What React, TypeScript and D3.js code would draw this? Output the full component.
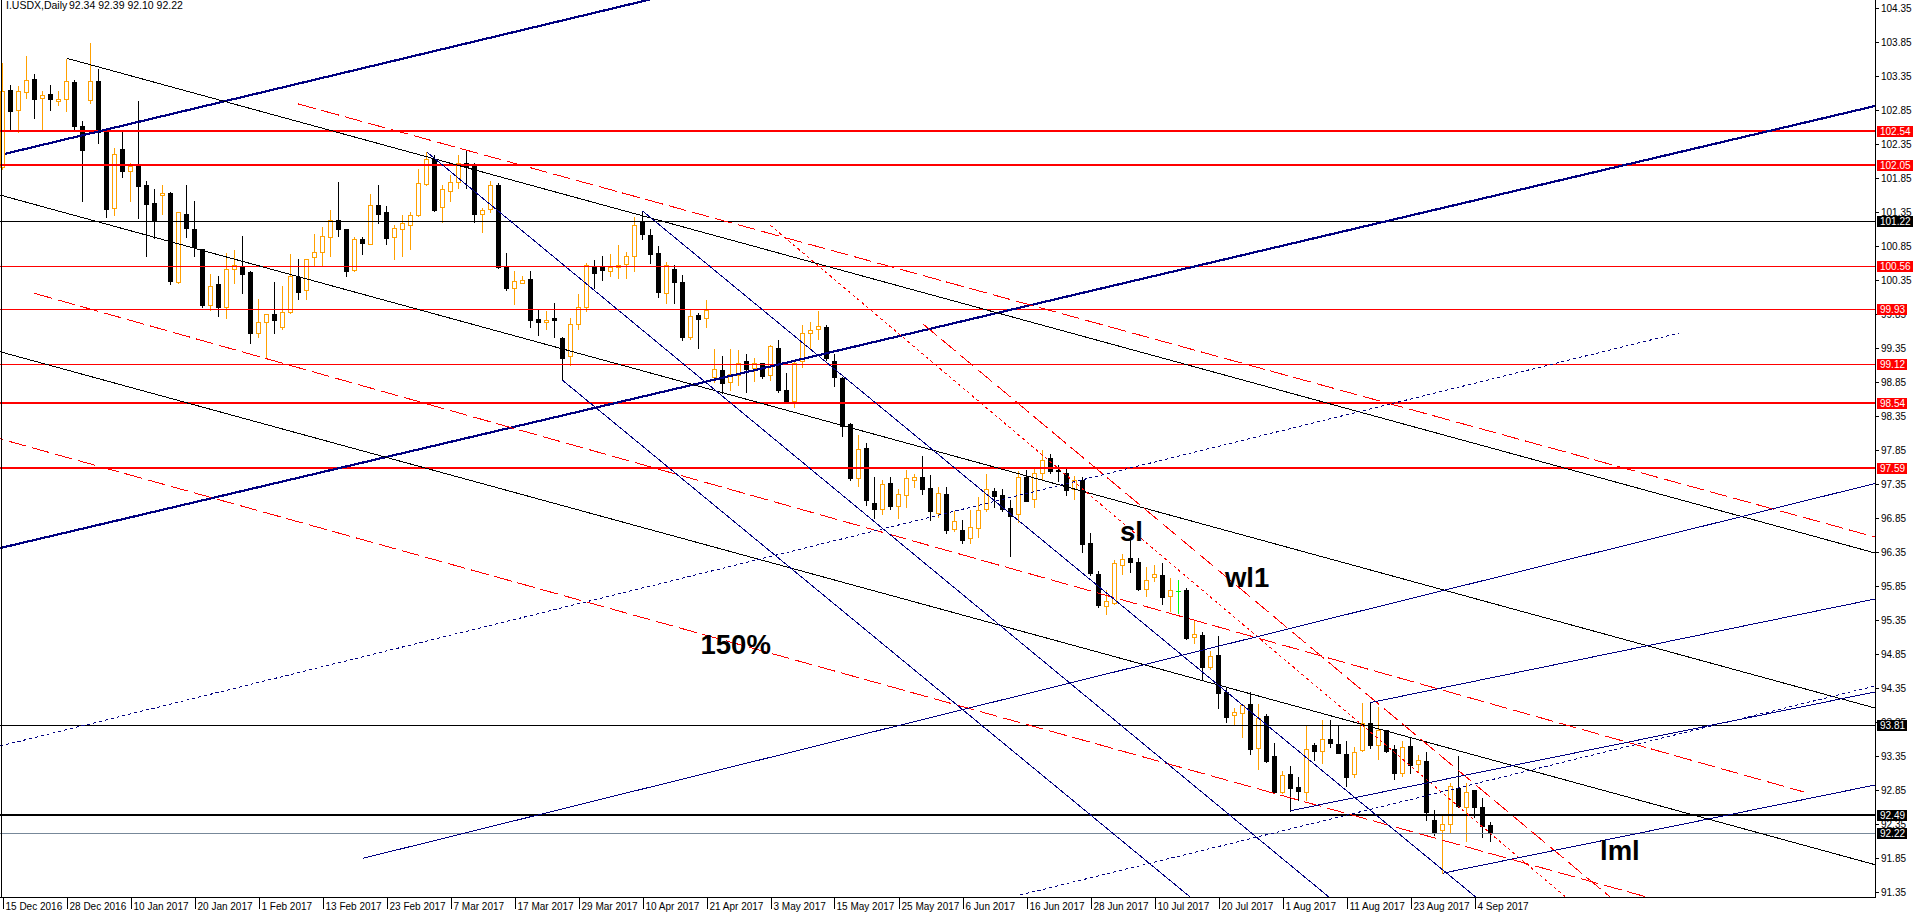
import React from 'react';
import * as d3 from 'd3';

const W = 1917;
const H = 917;

// ---- OHLC data, I.USDX Daily, 15 Dec 2016 .. 6 Sep 2017 (bar index 0..186) ----
const opens = [
  102.02,103.15,102.86,103.12,103.31,103.03,103.09,102.98,103.02,103.26,
  102.62,103.00,103.28,102.53,101.42,102.28,101.95,102.03,101.75,101.48,
  101.61,101.63,100.33,101.33,101.11,100.81,99.98,100.29,99.95,100.51,
  100.56,100.47,99.57,99.74,99.85,99.67,99.89,100.40,100.21,100.69,
  100.76,100.98,101.24,101.10,100.50,100.96,100.89,101.46,101.35,100.98,
  101.11,101.17,101.31,101.77,102.14,101.43,101.67,101.80,102.08,102.03,
  101.33,101.40,101.75,100.55,100.23,100.31,100.37,99.78,99.73,99.79,
  99.50,99.23,99.70,99.95,100.56,100.55,100.49,100.54,100.59,100.71,
  101.21,101.02,100.75,100.17,100.51,100.32,99.52,99.84,99.79,98.93,
  99.03,98.85,98.96,99.16,99.06,99.13,98.96,99.36,98.74,98.58,
  99.16,99.57,99.63,99.67,99.16,98.92,98.24,97.44,97.88,97.08,
  96.98,97.37,97.03,97.19,97.41,97.46,97.29,96.93,97.20,96.69,
  96.68,96.56,96.70,96.98,97.25,97.19,97.00,96.92,97.46,97.13,
  97.51,97.73,97.56,97.51,97.28,97.42,96.48,96.03,95.56,95.60,
  96.17,96.27,96.21,95.81,95.98,96.02,95.70,95.78,95.79,95.10,
  95.13,94.66,94.84,94.30,93.96,93.98,94.12,93.47,93.94,93.35,
  92.82,93.09,92.90,92.82,93.52,93.43,93.61,93.53,93.39,93.09,
  93.44,93.84,93.52,93.73,93.45,93.10,93.50,93.24,93.28,92.42,
  92.27,92.35,92.89,92.61,92.85,92.60,92.34
];
const highs = [
  103.54,103.22,103.21,103.65,103.38,103.13,103.22,103.13,103.61,103.29,
  102.69,103.84,103.45,102.56,102.30,102.53,102.08,102.98,101.81,101.69,
  101.75,101.65,101.35,101.75,101.52,100.81,100.44,100.42,100.75,100.80,
  101.00,100.48,100.07,99.85,100.32,100.27,100.74,100.66,100.67,101.03,
  101.13,101.39,101.79,101.10,100.98,100.98,101.62,101.75,101.44,101.17,
  101.31,101.36,101.98,102.24,102.19,101.75,101.90,102.19,102.27,102.08,
  101.42,101.81,101.78,100.75,100.48,100.42,100.49,99.93,99.90,100.02,
  99.52,99.79,100.15,100.60,100.65,100.71,100.74,100.87,100.77,101.28,
  101.37,101.10,100.85,100.62,100.58,100.43,99.92,99.87,100.06,99.34,
  99.23,99.34,99.33,99.27,99.20,99.14,99.40,99.47,98.99,99.17,
  99.69,99.74,99.90,99.69,99.26,98.93,98.25,98.08,97.95,97.45,
  97.42,97.46,97.28,97.56,97.50,97.77,97.49,97.31,97.31,96.95,
  96.83,96.97,97.16,97.50,97.29,97.28,97.12,97.54,97.56,97.59,
  97.85,97.80,97.63,97.59,97.47,97.46,96.63,96.07,95.80,96.24,
  96.33,96.58,96.26,96.14,96.17,96.19,95.97,95.94,95.82,95.35,
  95.18,94.90,95.12,94.37,94.06,94.12,94.29,94.12,93.97,93.54,
  93.13,93.20,93.04,93.79,93.55,93.89,93.88,93.79,93.57,93.48,
  94.13,94.14,94.07,93.74,93.52,93.57,93.63,93.37,93.42,92.56,
  92.49,92.95,93.35,92.96,92.86,92.73,92.39
];
const lows = [
  101.99,102.56,102.53,103.03,102.74,102.57,102.85,102.93,102.84,102.58,
  101.52,102.96,102.37,101.28,101.31,101.87,101.51,101.27,100.71,100.97,
  101.33,100.30,100.31,100.98,100.70,99.96,99.92,99.82,99.79,100.31,
  100.16,99.43,99.51,99.20,99.57,99.64,99.87,100.07,100.07,100.57,
  100.57,100.71,101.00,100.42,100.48,100.74,100.89,101.19,100.89,100.67,
  100.71,100.81,101.30,101.75,101.37,101.21,101.52,101.70,101.70,101.20,
  101.06,101.35,100.53,100.20,100.00,100.31,99.66,99.54,99.64,99.52,
  98.88,99.10,99.63,99.90,100.23,100.36,100.42,100.39,100.39,100.48,
  100.95,100.60,100.11,100.01,100.01,99.47,99.48,99.36,99.67,98.85,
  98.69,98.74,98.81,98.71,98.87,98.91,98.88,98.71,98.54,98.48,
  99.07,99.36,99.48,99.18,98.79,98.06,97.42,97.33,97.05,96.85,
  96.92,96.98,96.86,97.02,97.31,97.20,96.83,96.87,96.64,96.66,
  96.49,96.49,96.58,96.96,97.01,96.95,96.29,96.80,97.10,97.02,
  97.42,97.52,97.40,97.19,97.13,96.35,96.02,95.54,95.44,95.59,
  96.03,96.06,95.79,95.71,95.93,95.59,95.49,95.46,95.08,95.01,
  94.47,94.64,94.06,93.86,93.81,93.64,93.39,93.16,93.27,92.81,
  92.81,92.55,92.70,92.70,93.30,93.25,93.49,93.40,92.91,93.04,
  93.43,93.47,93.31,93.42,93.01,93.06,93.11,93.13,92.42,92.19,
  91.63,92.23,92.61,92.10,92.46,92.17,92.10
];
const closes = [
  103.13,102.84,103.13,103.29,103.02,103.07,103.02,103.02,103.28,102.62,
  102.26,103.28,102.53,101.40,102.20,101.96,102.03,101.74,101.47,101.22,
  101.64,100.34,101.35,101.12,100.84,99.99,100.27,99.95,100.51,100.58,
  100.44,99.57,99.73,99.85,99.76,99.89,100.41,100.18,100.67,100.76,
  101.00,101.24,101.11,100.48,100.95,100.90,101.45,101.33,100.97,101.12,
  101.19,101.31,101.78,102.14,101.38,101.69,101.79,102.08,102.02,101.32,
  101.39,101.75,100.54,100.23,100.34,100.36,99.76,99.74,99.77,99.76,
  99.21,99.71,99.95,100.57,100.45,100.50,100.55,100.58,100.70,101.17,
  101.03,100.73,100.18,100.58,100.32,99.51,99.82,99.78,99.92,99.04,
  98.84,98.97,99.14,99.04,99.14,98.94,99.38,98.74,98.54,99.14,
  99.57,99.62,99.68,99.20,98.93,98.21,97.44,97.87,97.12,96.98,
  97.35,97.03,97.20,97.44,97.46,97.28,96.95,97.22,96.68,96.81,
  96.53,96.72,96.97,97.28,97.18,96.98,96.88,97.46,97.11,97.52,
  97.71,97.54,97.54,97.27,97.42,96.47,96.04,95.58,95.63,96.19,
  96.25,96.21,95.81,95.94,96.03,95.69,95.79,95.78,95.09,95.15,
  94.67,94.83,94.28,93.93,94.00,94.11,93.45,93.92,93.28,92.82,
  93.07,92.89,92.84,93.45,93.43,93.60,93.54,93.40,93.05,93.42,
  93.84,93.51,93.74,93.43,93.10,93.48,93.22,93.30,92.53,92.24,
  92.35,92.91,92.62,92.82,92.61,92.32,92.22
];

const dateLabels = [
  '15 Dec 2016','28 Dec 2016','10 Jan 2017','20 Jan 2017','1 Feb 2017','13 Feb 2017',
  '23 Feb 2017','7 Mar 2017','17 Mar 2017','29 Mar 2017','10 Apr 2017','21 Apr 2017',
  '3 May 2017','15 May 2017','25 May 2017','6 Jun 2017','16 Jun 2017','28 Jun 2017',
  '10 Jul 2017','20 Jul 2017','1 Aug 2017','11 Aug 2017','23 Aug 2017','4 Sep 2017'
];
const dateLabelBars = [0,8,16,24,32,40,48,56,64,72,80,88,96,104,112,120,128,136,144,152,160,168,176,184];

const priceTicks = [
  104.35,103.85,103.35,102.85,102.35,101.85,101.35,100.85,100.35,99.85,99.35,98.85,98.35,
  97.85,97.35,96.85,96.35,95.85,95.35,94.85,94.35,93.85,93.35,92.85,92.35,91.85,91.35
];

// horizontal levels
const levelPrices = [102.54,102.05,101.22,100.56,99.93,99.12,98.54,97.59,93.81,92.49,92.22];
const levelKinds  = ['redThick','redThick','black','red','red','red','redThick','redThick','black','blackThick','bid'];

// trend lines: [bar, price] anchors
const lineA = [
  [0.31,102.21],[75.94,98.527],[8.03,103.615],[-0.31,101.604],[-0.31,99.300],
  [36.98,102.943],[3.98,100.159],[-0.31,98.019],[115.06,99.707],[95.94,101.163],
  [53,102.24],[80,101.37],[70,98.88],[-0.31,93.501],[127.19,91.31],[45.06,91.85],
  [161,92.55],[171,94.14],[180,91.63]
];
const lineB = [
  [49.69,103.60],[234.06,102.913],[234.06,96.340],[234.06,94.060],[234.06,91.756],
  [234.06,96.575],[225.19,92.825],[205.06,91.296],[199.90,91.384],[188.44,91.972],
  [165.5,91.31],[183.85,91.31],[145.94,91.525],[209.56,99.575],[234.06,94.384],[234.06,97.362],
  [234.06,94.296],[234.06,95.663],[234.06,92.928]
];
const lineExtend = ['right','both','right','both','both','right','none','both','right','right',
  'right','right','right','none','right','right','right','right','right'];
const lineKinds = ['navyThick','navyThick','black','black','black','redDash','redDash','redDash','redDash','redDot',
  'navy','navy','navy','navyDot','navyDot','navy','navy','navy','navy'];

const noteTexts = ['150%','sl','wl1','lml'];
const noteBars = [87.25,139.69,152.81,199.69];
const notePrices = [94.85,96.523,95.840,91.825];

const styles: Record<string, {stroke: string; w: number; dash?: string}> = {
  navyThick: {stroke: '#000080', w: 2.2},
  navy: {stroke: '#000080', w: 1},
  navyDot: {stroke: '#000080', w: 1, dash: '3,3'},
  black: {stroke: '#000000', w: 1},
  redDash: {stroke: '#ff0000', w: 1, dash: '18,6'},
  redDot: {stroke: '#ff0000', w: 1, dash: '3,3'},
};

const FONT = '"Liberation Sans", Arial, sans-serif';
const PLOT_R = 1875.5;
const PLOT_B = 897.5;
const ORANGE = '#ffa000';

export default function App() {
  const x = d3.scaleLinear().domain([0, 186]).range([2.5, 1490.5]);
  const y = d3.scaleLinear().domain([91.35, 104.35]).range([892.3, 8.3]);

  const at = (a: number[], b: number[], t: number) => a[1] + (b[1] - a[1]) * (t - a[0]) / (b[0] - a[0]);
  const lineGen = d3.line<[number, number]>().x(d => x(d[0])).y(d => y(d[1]));

  const candles = opens.map((o, i) => {
    const c = closes[i];
    const cx = x(i);
    const doji = o === c;
    const bull = c > o;
    const col = doji ? '#00ff00' : bull ? ORANGE : '#000000';
    const yT = Math.round(y(Math.max(o, c)));
    const yB = Math.round(y(Math.min(o, c)));
    const wick = (
      <line key={'w' + i} x1={cx} x2={cx} y1={Math.round(y(highs[i]))} y2={Math.round(y(lows[i])) + 1}
        stroke={col} strokeWidth={1} />
    );
    let body;
    if (doji) {
      body = <line key={'b' + i} x1={cx - 2.5} x2={cx + 2.5} y1={yT + 0.5} y2={yT + 0.5} stroke={col} strokeWidth={1} />;
    } else if (bull) {
      body = <rect key={'b' + i} x={cx - 2} y={yT + 0.5} width={4} height={Math.max(yB - yT, 1)}
        fill="#ffffff" stroke={col} strokeWidth={1} />;
    } else {
      body = <rect key={'b' + i} x={cx - 2.5} y={yT} width={5} height={Math.max(yB - yT + 1, 1)} fill={col} />;
    }
    return <g key={'c' + i}>{wick}{body}</g>;
  });

  const trend = lineA.map((a, k) => {
    const b = lineB[k];
    const ext = lineExtend[k];
    const t0 = ext === 'both' ? -5 : a[0];
    const t1 = ext === 'none' ? b[0] : 245;
    const pts: [number, number][] = [[t0, at(a, b, t0)], [t1, at(a, b, t1)]];
    const st = styles[lineKinds[k]];
    return <path key={'t' + k} d={lineGen(pts) || ''} fill="none" stroke={st.stroke} strokeWidth={st.w}
      strokeDasharray={st.dash} />;
  });

  const levels = levelPrices.map((p, k) => {
    const kind = levelKinds[k];
    const thick = kind === 'redThick' || kind === 'blackThick';
    const col = kind.startsWith('red') ? '#ff0000' : kind === 'bid' ? '#778899' : '#000000';
    const yy = thick ? Math.round(y(p)) : Math.round(y(p)) + 0.5;
    return <line key={'l' + k} x1={0} x2={PLOT_R} y1={yy} y2={yy} stroke={col} strokeWidth={thick ? 2 : 1} />;
  });

  const levelBoxes = levelPrices.map((p, k) => {
    const kind = levelKinds[k];
    const col = kind.startsWith('red') ? '#ff0000' : '#000000';
    const label = p.toFixed(2);
    const w = label.length === 6 ? 36 : 30;
    const yy = Math.round(y(p));
    return (
      <g key={'lb' + k}>
        <rect x={1877} y={yy - 5} width={w} height={11} fill={col} />
        <text x={1880} y={yy + 4} fill="#ffffff" fontSize={10} fontFamily={FONT}>{label}</text>
      </g>
    );
  });

  return (
    <svg width={W} height={H} style={{position: 'fixed', left: 0, top: 0, background: '#ffffff'}}
      shapeRendering="crispEdges">
      <defs>
        <clipPath id="plot">
          <rect x={0} y={0} width={PLOT_R} height={PLOT_B} />
        </clipPath>
      </defs>
      <rect x={0} y={0} width={W} height={H} fill="#ffffff" />
      <g clipPath="url(#plot)">
        {candles}
        {levels}
        {trend}
        {noteTexts.map((t, k) => (
          <text key={'n' + k} x={x(noteBars[k])} y={y(notePrices[k])} fontSize={27.5} fontWeight="bold"
            fontFamily={FONT} fill="#000000" shapeRendering="auto">{t}</text>
        ))}
      </g>
      {/* frame */}
      <line x1={1.5} x2={1.5} y1={0} y2={PLOT_B} stroke="#000" strokeWidth={1} />
      <line x1={0} x2={PLOT_R} y1={PLOT_B} y2={PLOT_B} stroke="#000" strokeWidth={1} />
      <line x1={PLOT_R} x2={PLOT_R} y1={0} y2={PLOT_B} stroke="#000" strokeWidth={1} />
      {/* price axis */}
      {priceTicks.map((p, k) => {
        const yy = Math.round(y(p)) + 0.5;
        return (
          <g key={'pt' + k}>
            <line x1={PLOT_R} x2={PLOT_R + 3} y1={yy} y2={yy} stroke="#000" />
            <text x={1881} y={yy + 3.5} fontSize={10} fontFamily={FONT} fill="#000">{p.toFixed(2)}</text>
          </g>
        );
      })}
      {levelBoxes}
      {/* date axis */}
      {dateLabelBars.map((b, k) => {
        const xx = Math.round(x(b)) + 0.5;
        return (
          <g key={'d' + k}>
            <line x1={xx} x2={xx} y1={PLOT_B} y2={PLOT_B + 11} stroke="#000" />
            <text x={xx + 2} y={910} fontSize={10} fontFamily={FONT} fill="#000">{dateLabels[k]}</text>
          </g>
        );
      })}
      {/* title */}
      <text x={6} y={9} fontSize={10.5} fontFamily={FONT} fill="#000">I.USDX,Daily</text>
      <text x={69} y={9} fontSize={10.5} fontFamily={FONT} fill="#000">92.34 92.39 92.10 92.22</text>
    </svg>
  );
}
